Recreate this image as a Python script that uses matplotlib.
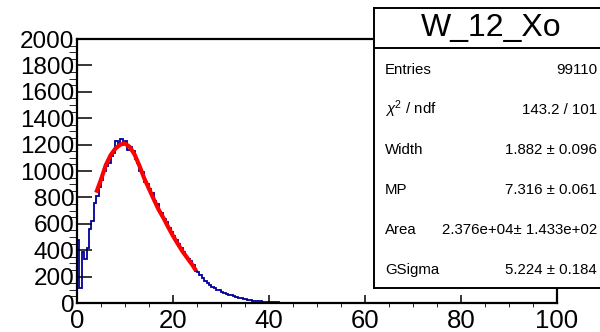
"""Landau-Gauss fit of W_12_Xo, ROOT-style stat box."""

import matplotlib

matplotlib.use("Agg")
import matplotlib.pyplot as plt
import numpy as np

plt.rcParams["font.family"] = ["Liberation Sans", "DejaVu Sans"]
plt.rcParams["mathtext.fontset"] = "custom"
plt.rcParams["mathtext.rm"] = "Liberation Sans"
plt.rcParams["mathtext.it"] = "Liberation Sans:italic"

# histogram, bins of 0.5 starting at 0
bin_width = 0.5
counts = [
    480, 110, 390, 330, 420, 560, 620, 760, 810, 880,
    930, 1000, 1040, 1060, 1110, 1140, 1230, 1200, 1240, 1205,
    1230, 1160, 1180, 1150, 1090, 1060, 1000, 990, 920, 900,
    860, 830, 770, 750, 690, 680, 640, 610, 570, 540,
    510, 480, 445, 415, 390, 355, 335, 315, 290, 245,
    235, 215, 190, 165, 150, 140, 125, 110, 100, 95,
    85, 78, 70, 62, 58, 52, 45, 40, 35, 32,
    30, 25, 22, 18, 16, 14, 12, 10, 8, 7,
    6, 5, 4, 4, 3, 3, 2, 2, 2, 1,
    1, 1, 1, 0, 1, 0, 0, 0, 0, 0,
]

# fitted curve
fit_x = [4, 5, 6, 7, 8, 9, 10, 11, 12, 13, 14, 15, 16, 17, 18, 19, 20, 21, 22, 23, 24, 24.8]
fit_y = [836, 935, 1045, 1120, 1170, 1200, 1208, 1182, 1125, 1040, 945, 865, 785, 708,
         645, 575, 508, 448, 390, 340, 290, 245]

title = "W_12_Xo"
stat_names = ["Entries", r"$\chi^{2}$ / ndf", "Width", "MP", "Area", "GSigma"]
stat_values = ["99110", "143.2 / 101", "1.882 ± 0.096", "7.316 ± 0.061",
               "2.376e+04± 1.433e+02", "5.224 ± 0.184"]

W, H = 600, 332
fig = plt.figure(figsize=(6, 3.32), dpi=100)
ax = fig.add_axes([77 / W, (H - 303) / H, 480 / W, 264 / H])

edges = np.arange(len(counts) + 1) * bin_width
ax.stairs(counts, edges, baseline=None, color="#000099", lw=1.3)
ax.plot(fit_x, fit_y, color="red", lw=3.0, solid_capstyle="butt")

ax.set_xlim(0, 100)
ax.set_ylim(0, 2000)
ax.set_xticks(np.arange(0, 101, 20))
ax.set_xticks(np.arange(0, 101, 5), minor=True)
ax.set_yticks(np.arange(0, 2001, 200))
ax.set_yticks(np.arange(0, 2001, 50), minor=True)
ax.tick_params(axis="both", direction="in", colors="black", width=1.1, labelsize=17.5)
ax.tick_params(axis="y", which="major", length=11, pad=2)
ax.tick_params(axis="y", which="minor", length=6)
ax.tick_params(axis="x", which="major", length=6, pad=4, labelsize=18.5)
ax.tick_params(axis="x", which="minor", length=3)
for s in ax.spines.values():
    s.set_linewidth(1.6)

# stat box, pixel coordinates
sax = fig.add_axes([374 / W, (H - 288) / H, (612 - 374) / W, 280 / H])
sax.set_xlim(374, 612)
sax.set_ylim(288, 8)
sax.set_xticks([])
sax.set_yticks([])
sax.set_facecolor("white")
for s in sax.spines.values():
    s.set_linewidth(1.4)
sax.axhline(48, color="black", lw=1.4)
sax.text(491, 36, title, fontsize=23, ha="center", va="baseline")
for i, (name, val) in enumerate(zip(stat_names, stat_values)):
    y = 74 + 40 * i
    sax.text(385, y, name, fontsize=10.8, ha="left", va="baseline")
    sax.text(597, y, val, fontsize=10.8, ha="right", va="baseline")

fig.savefig("out.png", dpi=100)
plt.close(fig)
